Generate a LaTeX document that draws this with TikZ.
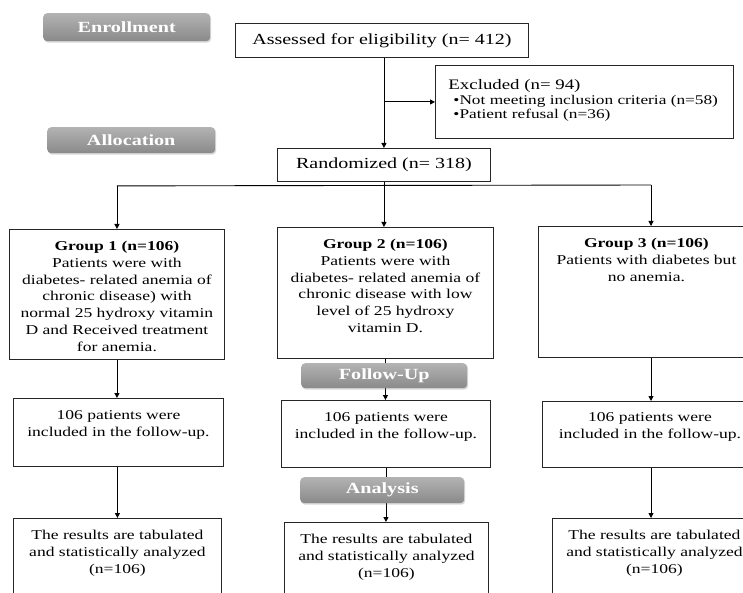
\documentclass[tikz,border=0pt]{standalone}
\usepackage{fontspec}
\setmainfont{Liberation Serif}[FakeStretch=1.3]
\usetikzlibrary{arrows.meta,shadows,calc}
\newcommand{\bxt}[4]{\parbox[c][#2][t]{#1}{\vspace*{#3}\centering #4}}
\newcommand{\fgrp}{\fontsize{13.5}{16.7}\selectfont}
\begin{document}
\begin{tikzpicture}[x=1pt,y=-1pt,
  box/.style={draw=black!85, line width=0.9pt, inner sep=0pt, anchor=north west, fill=white},
  banner/.style={rounded corners=4pt, top color=black!30, bottom color=black!46, anchor=north west,
     inner sep=0pt, text=white, font=\fontsize{15.5}{16}\selectfont\bfseries,
     drop shadow={opacity=0.3, shadow xshift=1pt, shadow yshift=-1.5pt}},
  arr/.style={line width=0.9pt, -{Triangle[length=5pt,width=5pt]}},
  ln/.style={line width=0.9pt}]
\useasboundingbox (0,0) rectangle (743,593);
\fill[white] (0,0) rectangle (743,593);
\clip (0,0) rectangle (743,593);

% top boxes
\node[box, minimum width=293pt, minimum height=34pt, font=\fontsize{15.4}{17}\selectfont] (assess) at (235,23) {Assessed for eligibility (n= 412)};
\node[box, minimum width=213pt, minimum height=33pt, font=\fontsize{15.4}{17}\selectfont] (rand) at (277,148) {Randomized (n= 318)};
\node[box] (excl) at (435,65) {\parbox[c][73pt][t]{298pt}{\fontsize{14.5}{16}\selectfont
  \vspace*{14pt}%
  \hspace*{13pt}Excluded (n= 94)\par
  \fontsize{13.3}{14.5}\selectfont
  \hspace*{18pt}•Not meeting inclusion criteria (n=58)\par
  \hspace*{18pt}•Patient refusal (n=36)\par}};

% groups
\node[box] (g1) at (9,229) {\bxt{215pt}{130pt}{12pt}{\fgrp\textbf{Group 1 (n=106)}\\Patients were with\\diabetes- related anemia of\\chronic disease) with\\normal 25 hydroxy vitamin\\D and Received treatment\\for anemia.}};
\node[box] (g2) at (277,227) {\bxt{216pt}{131pt}{12pt}{\fgrp\textbf{Group 2 (n=106)}\\Patients were with\\diabetes- related anemia of\\chronic disease with low\\level of 25 hydroxy\\vitamin D.}};
\node[box] (g3) at (538,226) {\bxt{216pt}{131pt}{12pt}{\fgrp\textbf{Group 3 (n=106)}\\Patients with diabetes but\\no anemia.}};

% follow-up
\node[box] (f1) at (13,398) {\bxt{210pt}{68pt}{12pt}{\fgrp 106 patients were\\included in the follow-up.}};
\node[box] (f2) at (281,400) {\bxt{209pt}{67pt}{12pt}{\fgrp 106 patients were\\included in the follow-up.}};
\node[box] (f3) at (542,401) {\bxt{215pt}{66pt}{11pt}{\fgrp 106 patients were\\included in the follow-up.}};

% results
\node[box] (r1) at (13,518) {\bxt{208pt}{90pt}{12pt}{\fgrp The results are tabulated\\and statistically analyzed\\(n=106)}};
\node[box] (r2) at (284,522) {\bxt{204pt}{86pt}{12pt}{\fgrp The results are tabulated\\and statistically analyzed\\(n=106)}};
\node[box] (r3) at (552,518) {\bxt{204pt}{90pt}{12pt}{\fgrp The results are tabulated\\and statistically analyzed\\(n=106)}};

% connectors
\draw[arr] (assess.south -| rand.north) -- (rand.north);
\coordinate (br) at (rand.north |- excl.west);
\draw[arr] (br) -- (excl.west);
\coordinate (split) at ($(rand.south)+(0,4)$);
\coordinate (s3) at (651,185);
\draw[ln] (rand.south) -- (split);
\draw[ln] (split -| g1.north) -- (s3);
\draw[arr] (split -| g1.north) -- (g1.north);
\draw[arr] (split) -- (split |- g2.north);
\draw[arr] (s3) -- (s3 |- g3.north);

\draw[arr] (g1.south) -- (g1.south |- f1.north);
\draw[arr] (r1.north |- f1.south) -- (r1.north);
\draw[arr] (g2.south) -- (g2.south |- f2.north);
\draw[arr] (f2.south) -- (f2.south |- r2.north);
\draw[arr] (s3 |- g3.south) -- (s3 |- f3.north);
\draw[arr] (s3 |- f3.south) -- (s3 |- r3.north);

% banners
\node[banner, minimum width=167pt, minimum height=28pt] (enr) at (43,13) {Enrollment};
\node[banner, minimum width=168pt, minimum height=26pt] (alloc) at (47,127) {Allocation};
\node[banner, minimum width=166pt, minimum height=25pt] (fup) at (301,363) {Follow-Up};
\node[banner, minimum width=164pt, minimum height=26pt] (ana) at (300,477) {Analysis};
\end{tikzpicture}
\end{document}
